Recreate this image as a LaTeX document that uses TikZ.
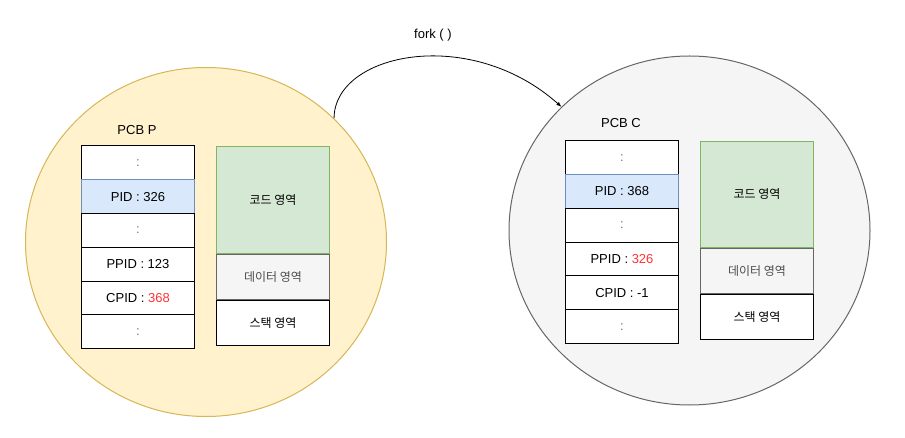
\documentclass[tikz,border=0pt]{standalone}
\usepackage{fontspec}
\setmainfont{Liberation Sans}
\newfontfamily\kr{Noto Sans CJK KR}
\usepackage{tikz}
\usetikzlibrary{shapes.geometric}
\usetikzlibrary{positioning}
\definecolor{procfill}{HTML}{FFF2CC}
\definecolor{procline}{HTML}{D6B656}
\definecolor{childfill}{HTML}{F5F5F5}
\definecolor{childline}{HTML}{666666}
\definecolor{codefill}{HTML}{D5E8D4}
\definecolor{codeline}{HTML}{82B366}
\definecolor{pidfill}{HTML}{DAE8FC}
\definecolor{pidline}{HTML}{6C8EBF}
\definecolor{datatext}{HTML}{4D4D4D}
\definecolor{pidred}{HTML}{FF3333}

\begin{document}
\begin{tikzpicture}[x=1pt,y=-1pt,
every node/.style={font=\fontsize{13}{15}\selectfont},
proc/.style={ellipse, inner sep=0pt, line width=1pt, minimum width=361pt, minimum height=349pt},
cell/.style={draw=black, fill=white, line width=1pt, inner sep=0pt, minimum width=113pt, minimum height=33.8pt},
dots/.style={cell, text=black!55},
pidcell/.style={cell, draw=pidline, fill=pidfill},
seg/.style={draw=black, fill=white, line width=1pt, inner sep=0pt, minimum width=113pt, font=\kr\fontsize{12}{14}\selectfont},
codeseg/.style={seg, draw=codeline, fill=codefill, minimum height=106.6pt},
dataseg/.style={seg, draw=childline, fill=childfill, text=datatext, minimum height=45pt},
stackseg/.style={seg, minimum height=45pt}]

\useasboundingbox (0,0) rectangle (905,438);

% parent and child process
\node[proc, draw=procline, fill=procfill] (procP) at (206,242) {};
\node[proc, draw=childline, fill=childfill] (procC) at (689.5,230.5) {};

% PCB of the parent
\node (pcbP) at (137,130) {PCB P};
\foreach \s/\t [count=\i] in {dots/:, pidcell/PID : 326, dots/:, cell/PPID : 123, cell/{CPID : \textcolor{pidred}{368}}, dots/:}
 { \node[\s] (rowP\i) at (138,{146+33.8*\i-16.9}) {\t}; }

\node[codeseg, anchor=north] (codeP) at (273,146) {코드 영역};
\node[dataseg, below=0pt of codeP] (dataP) {데이터 영역};
\node[stackseg, below=0pt of dataP] (stackP) {스택 영역};

% PCB of the child
\node (pcbC) at (621,123.5) {PCB C};
\foreach \s/\t [count=\i] in {dots/:, pidcell/PID : 368, dots/:, cell/{PPID : \textcolor{pidred}{326}}, cell/CPID : -1, dots/:}
 { \node[\s] (rowC\i) at (622,{140.7+33.8*\i-16.9}) {\t}; }

\node[codeseg, anchor=north] (codeC) at (757,140.7) {코드 영역};
\node[dataseg, below=0pt of codeC] (dataC) {데이터 영역};
\node[stackseg, below=0pt of dataC] (stackC) {스택 영역};

% fork
\draw [-latex, line width=0.8pt] (procP.44) .. controls +(0,-65) and +(-92,-82) .. (procC.136);
\node (fork) at (433,35) {fork ( )};

\end{tikzpicture}
\end{document}
